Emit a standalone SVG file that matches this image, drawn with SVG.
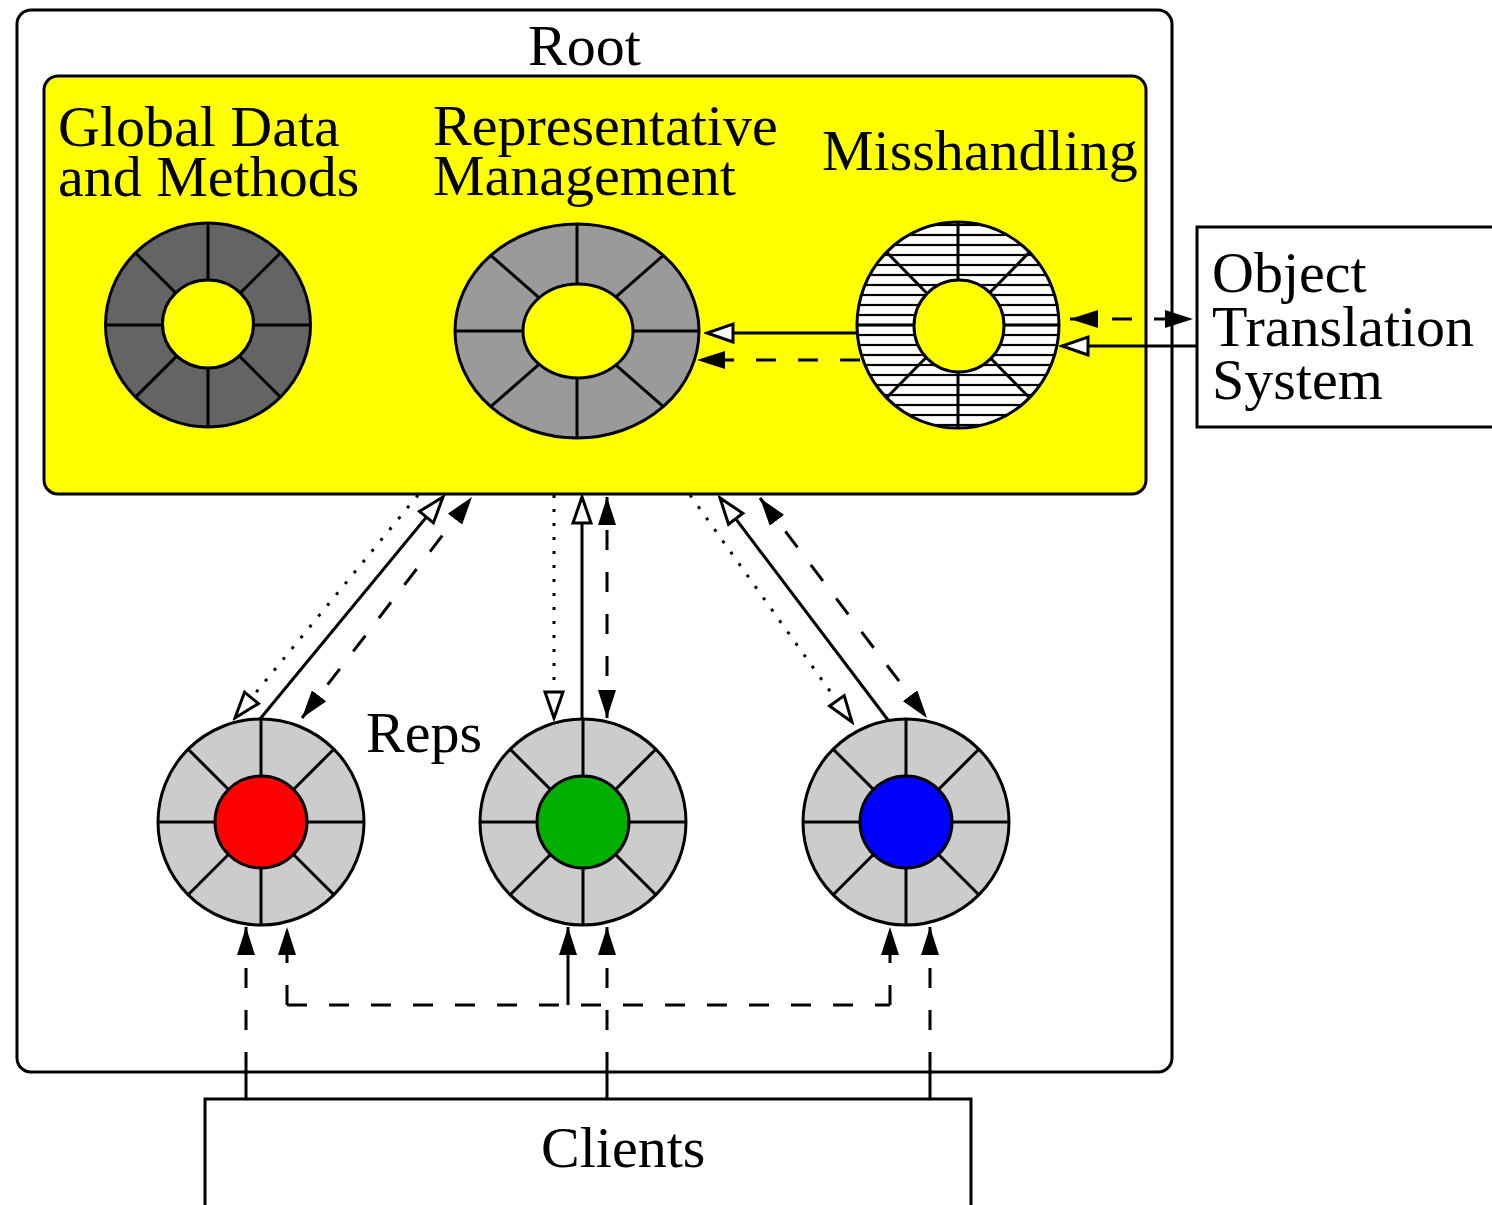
<svg xmlns="http://www.w3.org/2000/svg" width="1492" height="1205" viewBox="0 0 1492 1205">
<style>
  .lbl { font-family: "Liberation Serif", "Times New Roman", serif; font-size: 58px; fill: #000; }
  .box { fill: #fff; stroke: #000; stroke-width: 3; }
  .solid { fill: none; stroke: #000; stroke-width: 3; }
  .dash { fill: none; stroke: #000; stroke-width: 3; stroke-dasharray: 20 22; }
  .dot { fill: none; stroke: #000; stroke-width: 3; stroke-dasharray: 3 11; }
  .spoke { stroke: #000; stroke-width: 3; }
</style>
<defs>
  <marker id="fillHead" viewBox="0 0 28 18" refX="28" refY="9" markerWidth="28" markerHeight="18" markerUnits="userSpaceOnUse" orient="auto-start-reverse">
    <path d="M0,0 L28,9 L0,18 z" fill="#000" stroke="none"/>
  </marker>
  <marker id="openHead" viewBox="-3 -3 32 24" refX="26" refY="9" markerWidth="32" markerHeight="24" markerUnits="userSpaceOnUse" orient="auto">
    <path d="M0,0 L26,9 L0,18 z" fill="#fff" stroke="#000" stroke-width="3" stroke-dasharray="none"/>
  </marker>
  <pattern id="hatch" patternUnits="userSpaceOnUse" x="0" y="0" width="20" height="10">
    <rect width="20" height="10" fill="#fff"/>
    <line x1="0" y1="5" x2="20" y2="5" stroke="#000" stroke-width="2.2"/>
  </pattern>
  <symbol id="repRing" overflow="visible">
    <circle cx="0" cy="0" r="103" fill="#cccccc" stroke="#000" stroke-width="3"/>
    <line class="spoke" x1="-103" y1="0" x2="103" y2="0"/>
    <line class="spoke" x1="0" y1="-103" x2="0" y2="103"/>
    <line class="spoke" x1="-72.8" y1="-72.8" x2="72.8" y2="72.8"/>
    <line class="spoke" x1="72.8" y1="-72.8" x2="-72.8" y2="72.8"/>
  </symbol>
</defs>

<g id="root">
  <rect x="17" y="10" width="1155" height="1062" rx="14" ry="14" class="box"/>
  <text class="lbl" x="528" y="65">Root</text>
</g>

<g id="root-core">
  <rect x="44" y="76" width="1102" height="418" rx="14" ry="14" fill="#ffff00" stroke="#000" stroke-width="3"/>
</g>

<g id="global-data">
  <text class="lbl" x="58" y="146">Global Data</text>
  <text class="lbl" x="58" y="196">and Methods</text>
  <ellipse cx="208" cy="325" rx="102.5" ry="102" fill="#646464" stroke="#000" stroke-width="3"/>
  <line class="spoke" x1="105.5" y1="325" x2="310.5" y2="325"/>
  <line class="spoke" x1="208" y1="223" x2="208" y2="427"/>
  <line class="spoke" x1="135.5" y1="252.9" x2="280.5" y2="397.1"/>
  <line class="spoke" x1="280.5" y1="252.9" x2="135.5" y2="397.1"/>
  <ellipse cx="208" cy="324" rx="45.5" ry="44" fill="#ffff00" stroke="#000" stroke-width="3"/>
</g>

<g id="rep-management">
  <text class="lbl" x="433" y="145">Representative</text>
  <text class="lbl" x="433" y="195">Management</text>
  <ellipse cx="577" cy="331" rx="122" ry="107" fill="#9a9a9a" stroke="#000" stroke-width="3"/>
  <line class="spoke" x1="455" y1="331" x2="699" y2="331"/>
  <line class="spoke" x1="577" y1="224" x2="577" y2="438"/>
  <line class="spoke" x1="490.7" y1="255.3" x2="663.3" y2="406.7"/>
  <line class="spoke" x1="663.3" y1="255.3" x2="490.7" y2="406.7"/>
  <ellipse cx="578" cy="331" rx="55" ry="47" fill="#ffff00" stroke="#000" stroke-width="3"/>
</g>

<g id="misshandling">
  <text class="lbl" x="822" y="170">Misshandling</text>
  <ellipse cx="958" cy="325" rx="101" ry="103" fill="url(#hatch)" stroke="#000" stroke-width="3"/>
  <line class="spoke" x1="857" y1="325" x2="1059" y2="325"/>
  <line class="spoke" x1="958" y1="222" x2="958" y2="428"/>
  <line class="spoke" x1="886.6" y1="252.2" x2="1029.4" y2="397.8"/>
  <line class="spoke" x1="1029.4" y1="252.2" x2="886.6" y2="397.8"/>
  <ellipse cx="959" cy="326" rx="45" ry="46" fill="#ffff00" stroke="#000" stroke-width="3"/>
</g>

<g id="object-translation-system">
  <rect x="1197" y="227" width="330" height="200" class="box"/>
  <text class="lbl" x="1212" y="292">Object</text>
  <text class="lbl" x="1212" y="346">Translation</text>
  <text class="lbl" x="1212" y="399">System</text>
</g>

<g id="rep-red">
  <use href="#repRing" x="261" y="822"/>
  <circle cx="261" cy="822" r="46" fill="#ff0000" stroke="#000" stroke-width="3"/>
</g>
<g id="rep-green">
  <use href="#repRing" x="583" y="822"/>
  <circle cx="583" cy="822" r="46" fill="#00b000" stroke="#000" stroke-width="3"/>
</g>
<g id="rep-blue">
  <use href="#repRing" x="906" y="822"/>
  <circle cx="906" cy="822" r="46" fill="#0000ff" stroke="#000" stroke-width="3"/>
</g>
<g id="reps-label">
  <text class="lbl" x="366" y="752">Reps</text>
</g>

<g id="clients">
  <rect x="205" y="1099" width="766" height="130" class="box"/>
  <text class="lbl" x="541" y="1167">Clients</text>
</g>

<g id="connectors">
  <path class="solid" d="M857,333 L707,333" marker-end="url(#openHead)"/>
  <path class="dash" d="M860,360 L697,360" marker-end="url(#fillHead)"/>
  <path class="dash" d="M1070,319 L1193,319" marker-start="url(#fillHead)" marker-end="url(#fillHead)"/>
  <path class="solid" d="M1197,346 L1062,346" marker-end="url(#openHead)"/>

  <path class="dot" d="M418,495 L235,718" marker-end="url(#openHead)"/>
  <path class="solid" d="M260,719 L443,497" marker-end="url(#openHead)"/>
  <path class="dash" d="M302,718 L472,497" marker-start="url(#fillHead)" marker-end="url(#fillHead)"/>

  <path class="dot" d="M554,495 L554,718" marker-end="url(#openHead)"/>
  <path class="solid" d="M582,719 L582,497" marker-end="url(#openHead)"/>
  <path class="dash" d="M607,718 L607,497" marker-start="url(#fillHead)" marker-end="url(#fillHead)"/>

  <path class="dot" d="M690,495 L852,722" marker-end="url(#openHead)"/>
  <path class="solid" d="M888,720 L720,498" marker-end="url(#openHead)"/>
  <path class="dash" d="M760,498 L927,718" marker-start="url(#fillHead)" marker-end="url(#fillHead)"/>

  <path class="solid" d="M246,1099 L246,1072"/>
  <path class="dash" d="M246,1072 L246,927" marker-end="url(#fillHead)"/>
  <path class="solid" d="M607,1099 L607,1072"/>
  <path class="dash" d="M607,1072 L607,927" marker-end="url(#fillHead)"/>
  <path class="solid" d="M930,1099 L930,1072"/>
  <path class="dash" d="M930,1072 L930,927" marker-end="url(#fillHead)"/>

  <path class="dash" d="M287,1005 L890,1005"/>
  <path class="dash" d="M287,1005 L287,927" marker-end="url(#fillHead)"/>
  <path class="solid" d="M568,1005 L568,927" marker-end="url(#fillHead)"/>
  <path class="dash" d="M890,1005 L890,927" marker-end="url(#fillHead)"/>
</g>
</svg>
